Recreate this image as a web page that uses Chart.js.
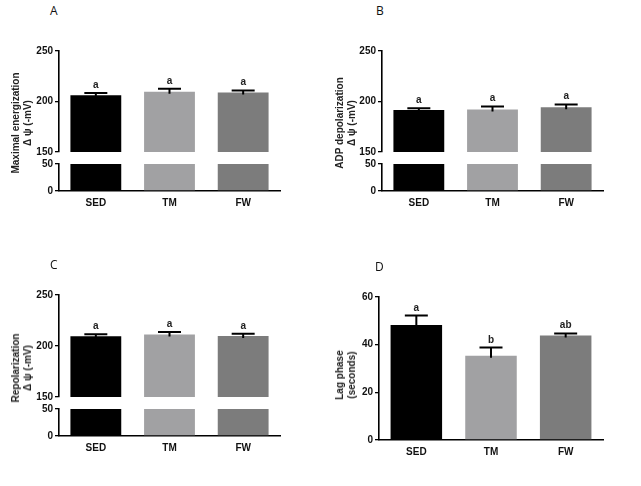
<!DOCTYPE html>
<html>
<head>
<meta charset="UTF-8">
<title>Membrane potential</title>
<script src="https://cdn.jsdelivr.net/npm/chart.js@4.4.0/dist/chart.umd.min.js"></script>
<style>
  body { margin: 0; background: #fff; }
  #page { position: relative; width: 641px; height: 486px; overflow: hidden; font-family: "Liberation Sans", Arial, sans-serif; }
  canvas { position: absolute; }
  .letter { position: absolute; font: 12px "Open Sans", sans-serif; color: #111; }
  .ytitle { position: absolute; transform: translate(-50%, -50%) rotate(-90deg); white-space: nowrap;
            text-align: center; font: bold 10px "Liberation Sans", Arial, sans-serif; line-height: 12px; color: #222; }
</style>
</head>
<body>
<div id="page"></div>
<script>
  // data
  const groups = ['SED', 'TM', 'FW']
  const barColors = ['#000000', '#a1a1a3', '#7c7c7c']

  const energMean = [206.1, 209.7, 208.8]
  const energErr = [2.4, 2.9, 2.2]
  const energSig = ['a', 'a', 'a']

  const adpMean = [191.5, 192.2, 194.4]
  const adpErr = [1.7, 2.9, 2.7]
  const adpSig = ['a', 'a', 'a']

  const repolMean = [209.6, 211.2, 209.9]
  const repolErr = [1.9, 2.6, 2.2]
  const repolSig = ['a', 'a', 'a']

  const lagMean = [48.3, 35.3, 43.8]
  const lagErr = [3.9, 3.5, 0.9]
  const lagSig = ['a', 'b', 'ab']

  const upperTicks = [150, 200, 250]
  const lowerTicks = [0, 50]
  const lagTicks = [0, 20, 40, 60]

  const page = document.getElementById('page')

  // mean + SEM whisker (upper only) and the significance letter
  const errorBars = {
    id: 'errorBars',
    afterDatasetsDraw(chart, args, opts) {
      if (!opts.err) return
      const ctx = chart.ctx
      const y = chart.scales.y
      const meta = chart.getDatasetMeta(0)
      ctx.save()
      ctx.strokeStyle = '#000'
      ctx.lineWidth = 2
      meta.data.forEach((bar, i) => {
        const top = y.getPixelForValue(opts.mean[i] + opts.err[i])
        const base = y.getPixelForValue(opts.mean[i])
        ctx.beginPath()
        ctx.moveTo(bar.x, base + 2)
        ctx.lineTo(bar.x, top)
        ctx.moveTo(bar.x - 11.5, top)
        ctx.lineTo(bar.x + 11.5, top)
        ctx.stroke()
        ctx.fillStyle = '#222'
        ctx.font = 'bold 10px "Liberation Sans", Arial, sans-serif'
        ctx.textAlign = 'center'
        ctx.textBaseline = 'alphabetic'
        ctx.fillText(opts.sig[i], bar.x, top - 5)
      })
      ctx.restore()
    }
  }

  function addText(cls, html, left, top) {
    const d = document.createElement('div')
    d.className = cls
    d.innerHTML = html
    d.style.left = left + 'px'
    d.style.top = top + 'px'
    page.appendChild(d)
  }

  // area = plot area on the page; the canvas is built around it
  function barChart(area, o) {
    const padL = 60, padT = 12, padR = 12, xH = 22
    const padB = o.xAxis ? 4 : 12
    const c = document.createElement('canvas')
    const w = area.r - area.l + padL + padR
    const h = area.b - area.t + padT + padB + (o.xAxis ? xH : 0)
    c.width = w
    c.height = h
    c.style.left = (area.l - padL) + 'px'
    c.style.top = (area.t - padT) + 'px'
    page.appendChild(c)

    return new Chart(c.getContext('2d'), {
      type: 'bar',
      data: {
        labels: groups,
        datasets: [{
          data: o.mean,
          backgroundColor: barColors,
          borderWidth: 0,
          barPercentage: 0.69,
          categoryPercentage: 1
        }]
      },
      options: {
        responsive: false,
        animation: false,
        events: [],
        layout: { autoPadding: false, padding: { left: 0, top: padT, right: padR, bottom: padB } },
        plugins: {
          legend: { display: false },
          tooltip: { enabled: false },
          errorBars: o.err ? { mean: o.mean, err: o.err, sig: o.sig } : {}
        },
        scales: {
          x: {
            display: !!o.xAxis,
            afterFit: s => { s.height = o.xAxis ? xH : 0 },
            grid: { display: true, drawOnChartArea: false, drawTicks: false },
            border: { display: true, color: '#000', width: 1.6 },
            ticks: { color: '#111', padding: 6, font: { family: 'Liberation Sans', size: 10, weight: 'bold' } }
          },
          y: {
            min: o.min,
            max: o.max,
            afterFit: s => { s.width = padL },
            afterBuildTicks: s => { s.ticks = o.ticks.map(v => ({ value: v })) },
            grid: { display: true, drawOnChartArea: false, drawTicks: true, tickLength: 4, color: '#000', lineWidth: 1.3 },
            border: { display: true, color: '#000', width: 1.6 },
            ticks: { color: '#111', padding: 2, font: { family: 'Liberation Sans', size: 10, weight: 'bold' } }
          }
        }
      },
      plugins: [errorBars]
    })
  }

  function brokenPanel(x, top, mean, err, sig) {
    barChart({ l: x.l, r: x.r, t: top.t, b: top.b }, { mean, err, sig, min: 150, max: 250, ticks: upperTicks })
    barChart({ l: x.l, r: x.r, t: top.bt, b: top.bb }, { mean, min: 0, max: 50, ticks: lowerTicks, xAxis: true })
  }

  // A
  brokenPanel({ l: 59, r: 280 }, { t: 50.7, b: 152.7, bt: 163.7, bb: 190.7 }, energMean, energErr, energSig)
  addText('letter', 'A', 50, 2)
  addText('ytitle', 'Maximal energization<br>Δ ψ (-mV)', 22, 123)

  // B
  brokenPanel({ l: 382, r: 603 }, { t: 50.7, b: 152.7, bt: 163.7, bb: 190.7 }, adpMean, adpErr, adpSig)
  addText('letter', 'B', 376, 2)
  addText('ytitle', 'ADP depolarization<br>Δ ψ (-mV)', 346, 123)

  // C
  brokenPanel({ l: 59, r: 280 }, { t: 295, b: 397.3, bt: 408.7, bb: 435.7 }, repolMean, repolErr, repolSig)
  addText('letter', 'C', 50, 256)
  addText('ytitle', 'Repolarization<br>Δ ψ (-mV)', 22, 368)

  // D
  barChart({ l: 379, r: 603, t: 296.7, b: 440 },
    { mean: lagMean, err: lagErr, sig: lagSig, min: 0, max: 60, ticks: lagTicks, xAxis: true })
  addText('letter', 'D', 375, 258)
  addText('ytitle', 'Lag phase<br>(seconds)', 346, 375)
</script>
</body>
</html>
